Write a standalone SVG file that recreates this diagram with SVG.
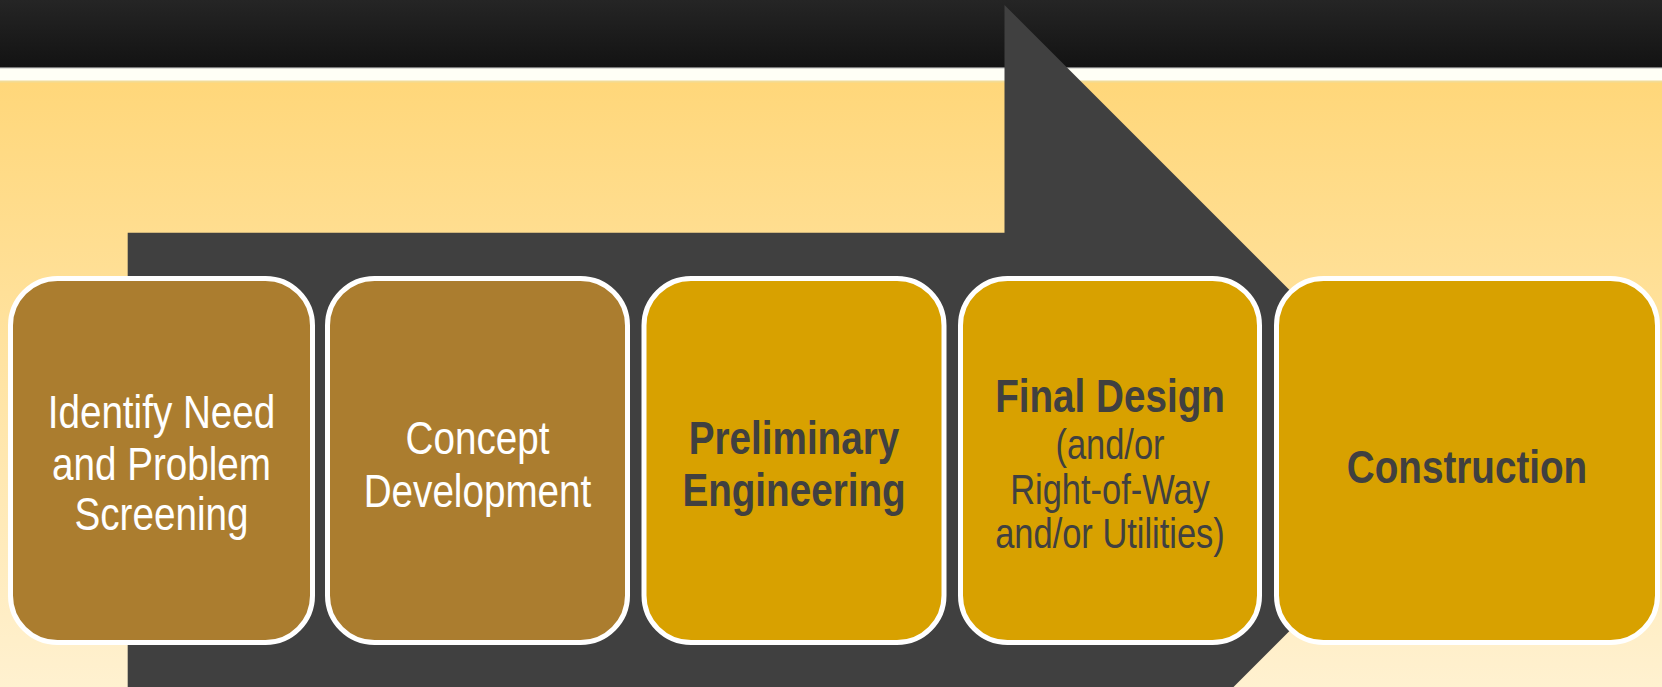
<svg xmlns="http://www.w3.org/2000/svg" width="1662" height="687" viewBox="0 0 1662 687">
  <defs>
    <linearGradient id="hdr" x1="0" y1="0" x2="0" y2="1">
      <stop offset="0" stop-color="#252525"/>
      <stop offset="1" stop-color="#131313"/>
    </linearGradient>
    <linearGradient id="bg" x1="0" y1="0" x2="0" y2="1">
      <stop offset="0" stop-color="#FFD77A"/>
      <stop offset="1" stop-color="#FFF1D0"/>
    </linearGradient>
    <style>
      .box { stroke: #FFFFFF; stroke-width: 5; }
      .brown { fill: #AB7D2F; }
      .gold { fill: #D8A100; }
      .t { font-family: "Liberation Sans", Arial, sans-serif; text-anchor: middle; }
      .w { fill: #FFFFFF; font-size: 46px; }
      .d { fill: #404040; }
      .b { font-weight: bold; font-size: 46px; }
      .s { font-size: 41px; }
    </style>
  </defs>

  <g id="background">
    <rect x="0" y="82" width="1662" height="605" fill="url(#bg)"/>
    <rect x="0" y="0" width="1662" height="67" fill="url(#hdr)"/>
    <rect x="0" y="67" width="1662" height="1.5" fill="#7A7A7A"/>
    <rect x="0" y="68.5" width="1662" height="12" fill="#FFFFF6"/>
    <rect x="0" y="80.5" width="1662" height="2" fill="#F2DC96"/>
  </g>

  <g id="connectors">
    <polygon id="big-arrow" points="127.7,232.7 1004.5,232.7 1004.5,5 1460,460.5 1233.5,687 127.7,687" fill="#404040"/>
  </g>

  <g id="node-identify">
    <rect class="box brown" x="10.5" y="278.5" width="302" height="364" rx="47" ry="47"/>
    <text class="t w" transform="translate(161.5,428) scale(0.84,1.02)">Identify Need</text>
    <text class="t w" transform="translate(161.5,480) scale(0.84,1.02)">and Problem</text>
    <text class="t w" transform="translate(161.5,530) scale(0.84,1.02)">Screening</text>
  </g>

  <g id="node-concept">
    <rect class="box brown" x="327.5" y="278.5" width="300" height="364" rx="47" ry="47"/>
    <text class="t w" transform="translate(477.5,454) scale(0.84,1.02)">Concept</text>
    <text class="t w" transform="translate(477.5,506.5) scale(0.84,1.02)">Development</text>
  </g>

  <g id="node-preliminary">
    <rect class="box gold" x="644" y="278.5" width="300" height="364" rx="47" ry="47"/>
    <text class="t d b" transform="translate(794,454) scale(0.84,1.02)">Preliminary</text>
    <text class="t d b" transform="translate(794,506) scale(0.84,1.02)">Engineering</text>
  </g>

  <g id="node-final">
    <rect class="box gold" x="960.5" y="278.5" width="299" height="364" rx="47" ry="47"/>
    <text class="t d b" transform="translate(1110,411.5) scale(0.84,1.02)">Final Design</text>
    <text class="t d s" transform="translate(1110,458.5) scale(0.84,1.02)">(and/or</text>
    <text class="t d s" transform="translate(1110,504) scale(0.84,1.02)">Right-of-Way</text>
    <text class="t d s" transform="translate(1110,547.5) scale(0.84,1.02)">and/or Utilities)</text>
  </g>

  <g id="node-construction">
    <rect class="box gold" x="1276.5" y="278.5" width="381" height="364" rx="47" ry="47"/>
    <text class="t d b" transform="translate(1467,482.5) scale(0.84,1.02)">Construction</text>
  </g>
</svg>
